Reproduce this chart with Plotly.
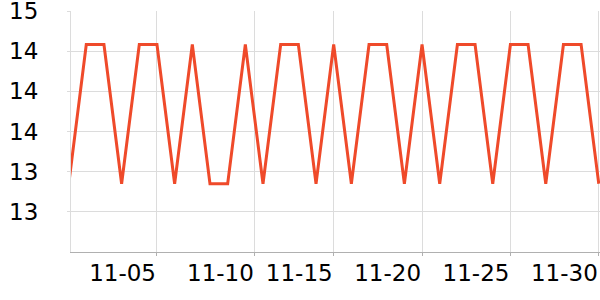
import plotly.graph_objects as go
import pandas as pd

dates = pd.date_range("2023-10-31", "2023-11-30", freq="D")
H, L = 14.35, 13.31
values = [13.3, H, H, L, H, H, L, H, L, L, H, L, H, H, L, H, L, H, H, L,
          H, L, H, H, L, H, H, L, H, H, L]

x_tick_vals = ["2023-11-05", "2023-11-10 13:00", "2023-11-15", "2023-11-20",
               "2023-11-25", "2023-11-30"]
x_tick_text = ["11-05", "11-10", "11-15", "11-20", "11-25", "11-30"]
y_tick_vals = [13.1, 13.4, 13.7, 14.0, 14.3, 14.6]
y_tick_text = ["13", "13", "14", "14", "14", "15"]

fig = go.Figure()
fig.add_trace(go.Scatter(x=dates, y=values, mode="lines",
                         line=dict(color="#ef4a2a", width=3),
                         hoverinfo="skip"))

fig.update_layout(
    width=600, height=300,
    margin=dict(l=71, r=0, t=11, b=48),
    paper_bgcolor="white", plot_bgcolor="white",
    showlegend=False,
    font=dict(family="DejaVu Sans", size=23, color="#000"),
)
fig.update_xaxes(
    type="date",
    range=["2023-10-31 03:15", "2023-11-30 01:40"],
    tickvals=x_tick_vals, ticktext=x_tick_text,
    ticklabelposition="outside left",
    ticklabeloverflow="allow",
    automargin=False,
    showgrid=True, gridcolor="#dcdcdc", gridwidth=1,
    showline=True, linecolor="#b0b0b0", linewidth=1,
    ticks="outside", ticklen=3, tickcolor="#b0b0b0",
    zeroline=False,
)
fig.update_yaxes(
    range=[12.8, 14.6005],
    tickvals=y_tick_vals, ticktext=y_tick_text,
    ticklabeloverflow="allow",
    automargin=False,
    showgrid=True, gridcolor="#dcdcdc", gridwidth=1,
    showline=True, linecolor="#dcdcdc", linewidth=1,
    ticks="outside", ticklen=3, tickcolor="#dcdcdc",
    ticklabelstandoff=24,
    zeroline=False,
)
fig.write_html("out.html")
